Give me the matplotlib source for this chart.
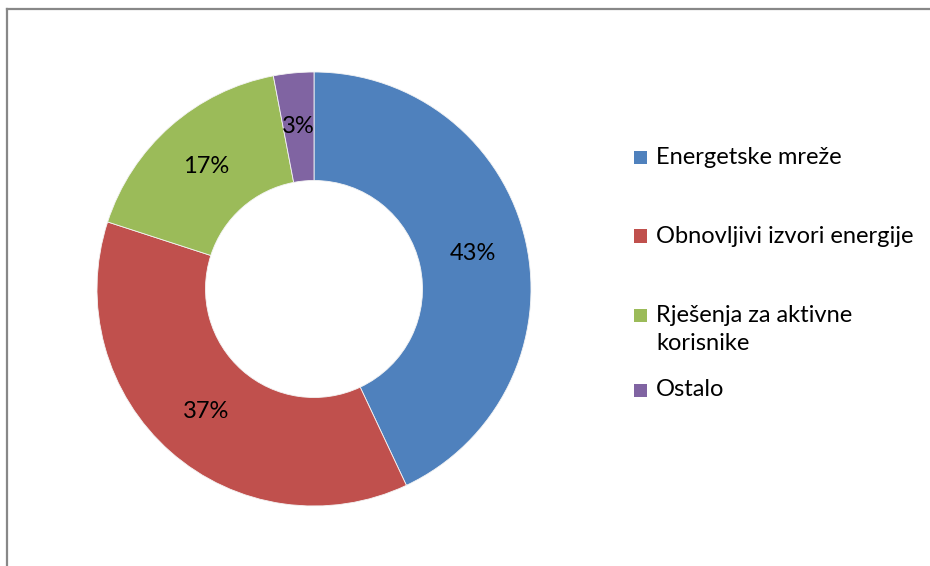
import math
import matplotlib
matplotlib.use("Agg")
import matplotlib.pyplot as plt
from matplotlib.patches import Rectangle
from matplotlib.lines import Line2D

labels = ["Energetske mreže", "Obnovljivi izvori energije",
          "Rješenja za aktivne\nkorisnike", "Ostalo"]
values = [43, 37, 17, 3]
colors = ["#4F81BD", "#C0504D", "#9BBB59", "#8064A2"]

W, H = 930, 566
plt.rcParams["font.family"] = ["Lato", "DejaVu Sans"]

fig = plt.figure(figsize=(W / 100, H / 100), dpi=100)

# donut, centre (314, 289) px, outer radius 217 px
cx, cy, r = 314, 289, 217
ax = fig.add_axes([(cx - r) / W, (H - cy - r) / H, 2 * r / W, 2 * r / H])
ax.pie(values, colors=colors, startangle=90, counterclock=False, radius=1.0,
       wedgeprops=dict(width=0.5, edgecolor="#f4f4f4", linewidth=0.6))
ax.set_xlim(-1, 1)
ax.set_ylim(-1, 1)
ax.set_aspect("equal")
ax.axis("off")

# percentage labels in the middle of the ring
start = 90.0
for v in values:
    mid = start - v / 100 * 360 / 2
    start -= v / 100 * 360
    x = 0.75 * math.cos(math.radians(mid))
    y = 0.75 * math.sin(math.radians(mid))
    ax.text(x, y, f"{v}%", ha="center", va="center", fontsize=17, color="black")

# legend: y of first text line (px from top); square sits on that line
leg_y = [157, 236, 315, 390]
for lab, col, y in zip(labels, colors, leg_y):
    fig.add_artist(Rectangle((634 / W, (H - y - 6.5) / H), 13 / W, 13 / H,
                             transform=fig.transFigure, facecolor=col, edgecolor="none"))
    fig.text(656 / W, (H - y + 10.5) / H, lab, ha="left", va="top",
             fontsize=17, color="black", linespacing=1.45)

# outer border (continues past right and bottom edges)
fig.add_artist(Line2D([7 / W, 7 / W], [0, (H - 8.5) / H], transform=fig.transFigure,
                      color="#888888", linewidth=1.6))
fig.add_artist(Line2D([7 / W, 1], [(H - 8.5) / H, (H - 8.5) / H],
                      transform=fig.transFigure, color="#888888", linewidth=1.6))

fig.savefig("out.png", dpi=100)
